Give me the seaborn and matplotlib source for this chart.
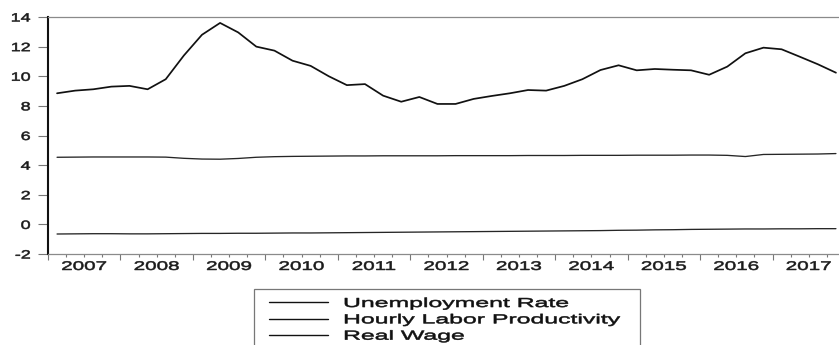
import numpy as np
import pandas as pd
import matplotlib
matplotlib.use("Agg")
import matplotlib.pyplot as plt
import seaborn as sns
from matplotlib.patheffects import AbstractPathEffect
from matplotlib.transforms import Affine2D
from matplotlib.ticker import FixedLocator, FixedFormatter, NullFormatter
from matplotlib.lines import Line2D
from matplotlib.legend_handler import HandlerLine2D

# ---------------- data (quarterly, 2007Q1 - 2017Q4) ----------------
years = list(range(2007, 2018))
quarters = [y + (q + 0.5) / 4 for y in years for q in range(4)]

unemployment = [8.85, 9.03, 9.12, 9.30, 9.35, 9.12, 9.80, 11.40, 12.80, 13.60,
                12.96, 12.00, 11.73, 11.05, 10.70, 10.00, 9.40, 9.47, 8.69, 8.28,
                8.60, 8.13, 8.13, 8.47, 8.67, 8.85, 9.07, 9.03, 9.35, 9.80,
                10.42, 10.74, 10.40, 10.49, 10.44, 10.40, 10.10, 10.65, 11.55, 11.93,
                11.82, 11.32, 10.81, 10.24]
productivity = [4.53, 4.54, 4.55, 4.55, 4.55, 4.55, 4.54, 4.46, 4.41, 4.40,
                4.45, 4.53, 4.57, 4.59, 4.60, 4.61, 4.62, 4.62, 4.63, 4.63,
                4.63, 4.63, 4.64, 4.64, 4.64, 4.64, 4.65, 4.65, 4.65, 4.66,
                4.66, 4.66, 4.67, 4.67, 4.67, 4.68, 4.68, 4.66, 4.58, 4.72,
                4.73, 4.74, 4.75, 4.78]
real_wage = [-0.65, -0.64, -0.63, -0.63, -0.64, -0.64, -0.63, -0.62, -0.61, -0.61,
             -0.60, -0.60, -0.59, -0.58, -0.58, -0.57, -0.56, -0.55, -0.54, -0.53,
             -0.52, -0.51, -0.50, -0.49, -0.48, -0.47, -0.46, -0.45, -0.44, -0.43,
             -0.42, -0.40, -0.39, -0.37, -0.36, -0.34, -0.33, -0.32, -0.31, -0.31,
             -0.30, -0.30, -0.29, -0.29]
series_names = ["Unemployment Rate", "Hourly Labor Productivity", "Real Wage"]
y_ticks = [-2, 0, 2, 4, 6, 8, 10, 12, 14]

df = pd.DataFrame({"t": quarters,
                   series_names[0]: unemployment,
                   series_names[1]: productivity,
                   series_names[2]: real_wage})


# horizontal stretch (and slight emboldening) of glyphs, as in the reference
class Stretch(AbstractPathEffect):
    def __init__(self, sx, anchor="center", stroke=0.4):
        super().__init__()
        self.sx = sx
        self.anchor = anchor
        self.stroke = stroke

    def draw_path(self, renderer, gc, tpath, affine, rgbFace=None):
        if len(tpath.vertices) == 0:
            return
        ext = tpath.get_extents()
        if self.anchor == "left":
            cx = 0.0
        elif self.anchor == "right":
            cx = ext.x1
        else:
            cx = (ext.x0 + ext.x1) / 2
        t = Affine2D().translate(-cx, 0).scale(self.sx, 1).translate(cx, 0) + affine
        gc0 = renderer.new_gc()
        gc0.copy_properties(gc)
        if rgbFace is not None and self.stroke > 0:
            gc0.set_foreground(rgbFace)
            gc0.set_linewidth(self.stroke)
            gc0.set_joinstyle("round")
        renderer.draw_path(gc0, tpath, t, rgbFace)
        gc0.restore()


sns.set_style("white")
plt.rcParams["font.family"] = ["Liberation Sans", "DejaVu Sans"]

W, H = 839, 345
fig = plt.figure(figsize=(W / 100, H / 100), dpi=100)
ax = fig.add_axes([48 / W, 1 - 254 / H, 797 / W, 237 / H])

styles = [dict(color="#111111", linewidth=1.25),
          dict(color="#262626", linewidth=0.95),
          dict(color="#262626", linewidth=0.95)]
for name, st in zip(series_names, styles):
    sns.lineplot(data=df, x="t", y=name, ax=ax, label=name, **st)

ax.set_xlim(2007, 2018)
ax.set_ylim(-2, 14)
ax.set_xlabel("")
ax.set_ylabel("")

# x ticks: year boundaries (major), quarter boundaries (minor), labels mid-year
ax.xaxis.set_major_locator(FixedLocator(list(range(2007, 2019))))
ax.xaxis.set_major_formatter(NullFormatter())
minor_locs = [y + q / 4 for y in years for q in (1, 2, 3)]
minor_labels = [str(y) if q == 2 else "" for y in years for q in (1, 2, 3)]
ax.xaxis.set_minor_locator(FixedLocator(minor_locs))
ax.xaxis.set_minor_formatter(FixedFormatter(minor_labels))
ax.tick_params(axis="x", which="major", direction="out", length=4.3, width=0.8,
               color="#777777", bottom=True)
ax.tick_params(axis="x", which="minor", direction="out", length=2.5, width=0.8,
               color="#777777", bottom=True, labelsize=9, labelcolor="#1a1a1a", pad=2.5)

ax.set_yticks(y_ticks)
ax.set_yticklabels([str(v) for v in y_ticks])
ax.tick_params(axis="y", direction="out", length=7.2, width=0.8, color="#777777",
               left=True, labelsize=8.6, labelcolor="#1a1a1a", pad=5.5)

for lab in ax.get_xticklabels(minor=True):
    lab.set_path_effects([Stretch(1.65, "center")])
for lab in ax.get_yticklabels():
    lab.set_path_effects([Stretch(1.5, "right")])

ax.spines["left"].set_color("#111111")
ax.spines["left"].set_linewidth(1.5)
for s in ("top", "bottom", "right"):
    ax.spines[s].set_color("#8a8a8a")
    ax.spines[s].set_linewidth(0.9)

# legend
fs = 9.4
fs_px = fs * 100 / 72
bp = 0.68
handles, labels = ax.get_legend_handles_labels()
leg = ax.legend(handles, labels, loc="upper left",
                bbox_to_anchor=(254 / W, 1 - 289 / H, (640 - 254) / W, 0.0),
                bbox_transform=fig.transFigure, mode="expand",
                borderaxespad=0, borderpad=bp, labelspacing=0.32,
                handlelength=(328 - 254 - bp * fs_px) / fs_px,
                handletextpad=(343 - 328) / fs_px,
                fontsize=fs, frameon=True, fancybox=False,
                handler_map={Line2D: HandlerLine2D(xpad=(15 - bp * fs_px) / fs_px)})
leg.get_frame().set_edgecolor("#555555")
leg.get_frame().set_linewidth(0.9)
for ln in leg.get_lines():
    ln.set_color("#111111")
    ln.set_linewidth(1.0)
for tx in leg.get_texts():
    tx.set_color("#111111")
    tx.set_path_effects([Stretch(1.9, "left")])

fig.savefig("out.png", dpi=100)
